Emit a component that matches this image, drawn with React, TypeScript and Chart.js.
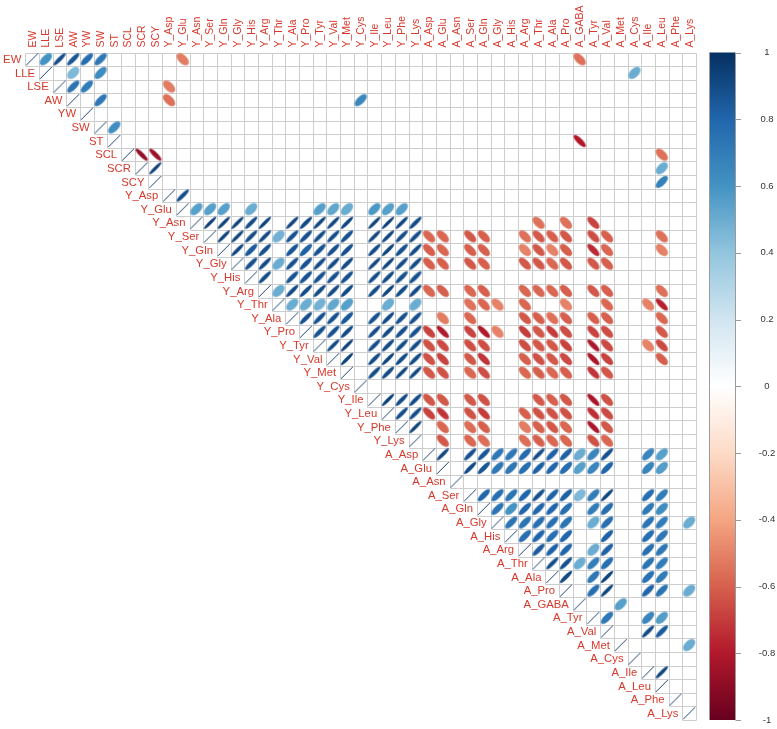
import React, { useEffect, useRef } from "react";
import { Chart, registerables } from "chart.js";

Chart.register(...registerables);

const variables = [
  "EW", "LLE", "LSE", "AW", "YW", "SW", "ST", "SCL", "SCR", "SCY",
  "Y_Asp", "Y_Glu", "Y_Asn", "Y_Ser", "Y_Gln", "Y_Gly", "Y_His", "Y_Arg", "Y_Thr", "Y_Ala",
  "Y_Pro", "Y_Tyr", "Y_Val", "Y_Met", "Y_Cys", "Y_Ile", "Y_Leu", "Y_Phe", "Y_Lys",
  "A_Asp", "A_Glu", "A_Asn", "A_Ser", "A_Gln", "A_Gly", "A_His", "A_Arg", "A_Thr", "A_Ala",
  "A_Pro", "A_GABA", "A_Tyr", "A_Val", "A_Met", "A_Cys", "A_Ile", "A_Leu", "A_Phe", "A_Lys",
];

const colorTicks = [1, 0.8, 0.6, 0.4, 0.2, 0, -0.2, -0.4, -0.6, -0.8, -1];

// Trait rows (EW ... SCY)
const traitPairs: [string, string, number][] = [
  ["EW", "LLE", 0.6], ["EW", "LSE", 0.9], ["EW", "AW", 0.86], ["EW", "YW", 0.76], ["EW", "SW", 0.72],
  ["EW", "Y_Glu", -0.52], ["EW", "A_GABA", -0.55],
  ["LLE", "AW", 0.45], ["LLE", "SW", 0.63], ["LLE", "A_Cys", 0.5],
  ["LSE", "AW", 0.74], ["LSE", "YW", 0.7], ["LSE", "Y_Asp", -0.52],
  ["AW", "SW", 0.72], ["AW", "Y_Asp", -0.55], ["AW", "Y_Cys", 0.65],
  ["SW", "ST", 0.62],
  ["ST", "A_GABA", -0.8],
  ["SCL", "SCR", -0.88], ["SCL", "SCY", -0.86], ["SCL", "A_Leu", -0.55],
  ["SCR", "SCY", 0.94], ["SCR", "A_Leu", 0.5],
  ["SCY", "A_Leu", 0.68],
];

// Y_ amino acids among themselves
const yAminoPairs: [string, string, number][] = [
  ["Y_Asp", "Y_Glu", 0.9],
  ["Y_Glu", "Y_Asn", 0.55], ["Y_Glu", "Y_Ser", 0.55], ["Y_Glu", "Y_Gln", 0.55], ["Y_Glu", "Y_His", 0.5],
  ["Y_Glu", "Y_Tyr", 0.55], ["Y_Glu", "Y_Val", 0.52], ["Y_Glu", "Y_Met", 0.5], ["Y_Glu", "Y_Ile", 0.58],
  ["Y_Glu", "Y_Leu", 0.55], ["Y_Glu", "Y_Phe", 0.55],
  ["Y_Asn", "Y_Ser", 0.94], ["Y_Asn", "Y_Gln", 0.93], ["Y_Asn", "Y_Gly", 0.93], ["Y_Asn", "Y_His", 0.9],
  ["Y_Asn", "Y_Arg", 0.93], ["Y_Asn", "Y_Ala", 0.92], ["Y_Asn", "Y_Pro", 0.9], ["Y_Asn", "Y_Tyr", 0.92],
  ["Y_Asn", "Y_Val", 0.92], ["Y_Asn", "Y_Met", 0.92], ["Y_Asn", "Y_Ile", 0.93], ["Y_Asn", "Y_Leu", 0.94],
  ["Y_Asn", "Y_Phe", 0.92], ["Y_Asn", "Y_Lys", 0.9],
  ["Y_Ser", "Y_Gln", 0.93], ["Y_Ser", "Y_Gly", 0.93], ["Y_Ser", "Y_His", 0.9], ["Y_Ser", "Y_Arg", 0.91],
  ["Y_Ser", "Y_Thr", 0.48], ["Y_Ser", "Y_Ala", 0.88], ["Y_Ser", "Y_Pro", 0.88], ["Y_Ser", "Y_Tyr", 0.9],
  ["Y_Ser", "Y_Val", 0.9], ["Y_Ser", "Y_Met", 0.88], ["Y_Ser", "Y_Ile", 0.92], ["Y_Ser", "Y_Leu", 0.92],
  ["Y_Ser", "Y_Phe", 0.9], ["Y_Ser", "Y_Lys", 0.9],
  ["Y_Gln", "Y_Gly", 0.92], ["Y_Gln", "Y_His", 0.84], ["Y_Gln", "Y_Arg", 0.88], ["Y_Gln", "Y_Ala", 0.86],
  ["Y_Gln", "Y_Pro", 0.82], ["Y_Gln", "Y_Tyr", 0.87], ["Y_Gln", "Y_Val", 0.88], ["Y_Gln", "Y_Met", 0.88],
  ["Y_Gln", "Y_Ile", 0.9], ["Y_Gln", "Y_Leu", 0.92], ["Y_Gln", "Y_Phe", 0.88], ["Y_Gln", "Y_Lys", 0.9],
  ["Y_Gly", "Y_His", 0.88], ["Y_Gly", "Y_Arg", 0.9], ["Y_Gly", "Y_Thr", 0.5], ["Y_Gly", "Y_Ala", 0.88],
  ["Y_Gly", "Y_Pro", 0.87], ["Y_Gly", "Y_Tyr", 0.9], ["Y_Gly", "Y_Val", 0.9], ["Y_Gly", "Y_Met", 0.9],
  ["Y_Gly", "Y_Ile", 0.92], ["Y_Gly", "Y_Leu", 0.92], ["Y_Gly", "Y_Phe", 0.9], ["Y_Gly", "Y_Lys", 0.9],
  ["Y_His", "Y_Arg", 0.9], ["Y_His", "Y_Ala", 0.87], ["Y_His", "Y_Pro", 0.87], ["Y_His", "Y_Tyr", 0.88],
  ["Y_His", "Y_Val", 0.88], ["Y_His", "Y_Met", 0.88], ["Y_His", "Y_Ile", 0.9], ["Y_His", "Y_Leu", 0.9],
  ["Y_His", "Y_Phe", 0.88], ["Y_His", "Y_Lys", 0.88],
  ["Y_Arg", "Y_Thr", 0.5], ["Y_Arg", "Y_Ala", 0.9], ["Y_Arg", "Y_Pro", 0.9], ["Y_Arg", "Y_Tyr", 0.9],
  ["Y_Arg", "Y_Val", 0.9], ["Y_Arg", "Y_Met", 0.9], ["Y_Arg", "Y_Ile", 0.9], ["Y_Arg", "Y_Leu", 0.92],
  ["Y_Arg", "Y_Phe", 0.9], ["Y_Arg", "Y_Lys", 0.9],
  ["Y_Thr", "Y_Ala", 0.5], ["Y_Thr", "Y_Pro", 0.5], ["Y_Thr", "Y_Tyr", 0.48], ["Y_Thr", "Y_Val", 0.52],
  ["Y_Thr", "Y_Met", 0.55], ["Y_Thr", "Y_Leu", 0.5], ["Y_Thr", "Y_Lys", 0.5],
  ["Y_Ala", "Y_Pro", 0.88], ["Y_Ala", "Y_Tyr", 0.88], ["Y_Ala", "Y_Val", 0.88], ["Y_Ala", "Y_Met", 0.85],
  ["Y_Ala", "Y_Ile", 0.88], ["Y_Ala", "Y_Leu", 0.9], ["Y_Ala", "Y_Phe", 0.88], ["Y_Ala", "Y_Lys", 0.88],
  ["Y_Pro", "Y_Tyr", 0.88], ["Y_Pro", "Y_Val", 0.88], ["Y_Pro", "Y_Met", 0.9], ["Y_Pro", "Y_Ile", 0.9],
  ["Y_Pro", "Y_Leu", 0.9], ["Y_Pro", "Y_Phe", 0.88], ["Y_Pro", "Y_Lys", 0.88],
  ["Y_Tyr", "Y_Val", 0.92], ["Y_Tyr", "Y_Met", 0.93], ["Y_Tyr", "Y_Ile", 0.9], ["Y_Tyr", "Y_Leu", 0.9],
  ["Y_Tyr", "Y_Phe", 0.9], ["Y_Tyr", "Y_Lys", 0.9],
  ["Y_Val", "Y_Met", 0.93], ["Y_Val", "Y_Ile", 0.9], ["Y_Val", "Y_Leu", 0.92], ["Y_Val", "Y_Phe", 0.9],
  ["Y_Val", "Y_Lys", 0.9],
  ["Y_Met", "Y_Ile", 0.9], ["Y_Met", "Y_Leu", 0.9], ["Y_Met", "Y_Phe", 0.92], ["Y_Met", "Y_Lys", 0.92],
  ["Y_Ile", "Y_Leu", 0.93], ["Y_Ile", "Y_Phe", 0.9], ["Y_Ile", "Y_Lys", 0.9],
  ["Y_Leu", "Y_Phe", 0.9], ["Y_Leu", "Y_Lys", 0.9],
  ["Y_Phe", "Y_Lys", 0.93],
];

// Y_ amino acids versus A_ amino acids
const yVsAPairs: [string, string, number][] = [
  ["Y_Asn", "A_Thr", -0.55], ["Y_Asn", "A_Pro", -0.55], ["Y_Asn", "A_Tyr", -0.68],
  ["Y_Ser", "A_Asp", -0.58], ["Y_Ser", "A_Glu", -0.58], ["Y_Ser", "A_Ser", -0.62], ["Y_Ser", "A_Gln", -0.6],
  ["Y_Ser", "A_Arg", -0.55], ["Y_Ser", "A_Thr", -0.62], ["Y_Ser", "A_Ala", -0.6], ["Y_Ser", "A_Pro", -0.62],
  ["Y_Ser", "A_Tyr", -0.65], ["Y_Ser", "A_Val", -0.6], ["Y_Ser", "A_Leu", -0.55],
  ["Y_Gln", "A_Asp", -0.6], ["Y_Gln", "A_Glu", -0.58], ["Y_Gln", "A_Ser", -0.6], ["Y_Gln", "A_Gln", -0.6],
  ["Y_Gln", "A_Arg", -0.5], ["Y_Gln", "A_Thr", -0.62], ["Y_Gln", "A_Ala", -0.5], ["Y_Gln", "A_Pro", -0.6],
  ["Y_Gln", "A_Tyr", -0.75], ["Y_Gln", "A_Val", -0.58], ["Y_Gln", "A_Leu", -0.5],
  ["Y_Gly", "A_Asp", -0.6], ["Y_Gly", "A_Glu", -0.6], ["Y_Gly", "A_Ser", -0.62], ["Y_Gly", "A_Gln", -0.6],
  ["Y_Gly", "A_Arg", -0.62], ["Y_Gly", "A_Thr", -0.62], ["Y_Gly", "A_Ala", -0.58], ["Y_Gly", "A_Pro", -0.62],
  ["Y_Gly", "A_Tyr", -0.62], ["Y_Gly", "A_Val", -0.6],
  ["Y_Arg", "A_Asp", -0.58], ["Y_Arg", "A_Glu", -0.6], ["Y_Arg", "A_Ser", -0.58], ["Y_Arg", "A_Gln", -0.6],
  ["Y_Arg", "A_Arg", -0.58], ["Y_Arg", "A_Thr", -0.58], ["Y_Arg", "A_Ala", -0.58], ["Y_Arg", "A_Pro", -0.6],
  ["Y_Arg", "A_Tyr", -0.62], ["Y_Arg", "A_Val", -0.6], ["Y_Arg", "A_Leu", -0.55],
  ["Y_Thr", "A_Ser", -0.55], ["Y_Thr", "A_Gln", -0.58], ["Y_Thr", "A_Gly", -0.5], ["Y_Thr", "A_Arg", -0.58],
  ["Y_Thr", "A_Pro", -0.5], ["Y_Thr", "A_Val", -0.58], ["Y_Thr", "A_Ile", -0.5], ["Y_Thr", "A_Leu", -0.78],
  ["Y_Ala", "A_Glu", -0.52], ["Y_Ala", "A_Ser", -0.58], ["Y_Ala", "A_Arg", -0.62], ["Y_Ala", "A_Thr", -0.6],
  ["Y_Ala", "A_Ala", -0.55], ["Y_Ala", "A_Pro", -0.6], ["Y_Ala", "A_Tyr", -0.6], ["Y_Ala", "A_Val", -0.6],
  ["Y_Ala", "A_Leu", -0.58],
  ["Y_Pro", "A_Asp", -0.68], ["Y_Pro", "A_Glu", -0.8], ["Y_Pro", "A_Ser", -0.68], ["Y_Pro", "A_Gln", -0.8],
  ["Y_Pro", "A_Gly", -0.5], ["Y_Pro", "A_Arg", -0.7], ["Y_Pro", "A_Thr", -0.62], ["Y_Pro", "A_Ala", -0.7],
  ["Y_Pro", "A_Pro", -0.65], ["Y_Pro", "A_Tyr", -0.68], ["Y_Pro", "A_Val", -0.65], ["Y_Pro", "A_Leu", -0.62],
  ["Y_Tyr", "A_Asp", -0.64], ["Y_Tyr", "A_Glu", -0.66], ["Y_Tyr", "A_Ser", -0.65], ["Y_Tyr", "A_Gln", -0.65],
  ["Y_Tyr", "A_Arg", -0.65], ["Y_Tyr", "A_Thr", -0.62], ["Y_Tyr", "A_Ala", -0.62], ["Y_Tyr", "A_Pro", -0.68],
  ["Y_Tyr", "A_Tyr", -0.82], ["Y_Tyr", "A_Val", -0.66], ["Y_Tyr", "A_Ile", -0.5], ["Y_Tyr", "A_Leu", -0.66],
  ["Y_Val", "A_Asp", -0.64], ["Y_Val", "A_Glu", -0.68], ["Y_Val", "A_Ser", -0.62], ["Y_Val", "A_Gln", -0.72],
  ["Y_Val", "A_Arg", -0.6], ["Y_Val", "A_Thr", -0.64], ["Y_Val", "A_Ala", -0.62], ["Y_Val", "A_Pro", -0.66],
  ["Y_Val", "A_Tyr", -0.82], ["Y_Val", "A_Val", -0.68], ["Y_Val", "A_Leu", -0.6],
  ["Y_Met", "A_Asp", -0.62], ["Y_Met", "A_Glu", -0.64], ["Y_Met", "A_Ser", -0.58], ["Y_Met", "A_Gln", -0.65],
  ["Y_Met", "A_Arg", -0.58], ["Y_Met", "A_Thr", -0.6], ["Y_Met", "A_Ala", -0.58], ["Y_Met", "A_Pro", -0.6],
  ["Y_Met", "A_Tyr", -0.72], ["Y_Met", "A_Val", -0.62],
  ["Y_Ile", "A_Asp", -0.62], ["Y_Ile", "A_Glu", -0.62], ["Y_Ile", "A_Ser", -0.62], ["Y_Ile", "A_Gln", -0.64],
  ["Y_Ile", "A_Thr", -0.62], ["Y_Ile", "A_Ala", -0.6], ["Y_Ile", "A_Pro", -0.62], ["Y_Ile", "A_Tyr", -0.82],
  ["Y_Ile", "A_Val", -0.64],
  ["Y_Leu", "A_Asp", -0.68], ["Y_Leu", "A_Glu", -0.72], ["Y_Leu", "A_Ser", -0.64], ["Y_Leu", "A_Gln", -0.7],
  ["Y_Leu", "A_Arg", -0.6], ["Y_Leu", "A_Thr", -0.64], ["Y_Leu", "A_Ala", -0.64], ["Y_Leu", "A_Pro", -0.64],
  ["Y_Leu", "A_Tyr", -0.74], ["Y_Leu", "A_Val", -0.66],
  ["Y_Phe", "A_Glu", -0.58], ["Y_Phe", "A_Ser", -0.56], ["Y_Phe", "A_Gln", -0.6], ["Y_Phe", "A_Arg", -0.52],
  ["Y_Phe", "A_Thr", -0.6], ["Y_Phe", "A_Ala", -0.62], ["Y_Phe", "A_Pro", -0.58], ["Y_Phe", "A_Tyr", -0.82],
  ["Y_Phe", "A_Val", -0.62],
  ["Y_Lys", "A_Glu", -0.62], ["Y_Lys", "A_Ser", -0.58], ["Y_Lys", "A_Gln", -0.56], ["Y_Lys", "A_Arg", -0.56],
  ["Y_Lys", "A_Thr", -0.6], ["Y_Lys", "A_Ala", -0.58], ["Y_Lys", "A_Pro", -0.58], ["Y_Lys", "A_Tyr", -0.64],
  ["Y_Lys", "A_Val", -0.58],
];

// A_ amino acids among themselves
const aAminoPairs: [string, string, number][] = [
  ["A_Asp", "A_Glu", 0.92], ["A_Asp", "A_Ser", 0.88], ["A_Asp", "A_Gln", 0.86], ["A_Asp", "A_Gly", 0.72],
  ["A_Asp", "A_His", 0.72], ["A_Asp", "A_Arg", 0.78], ["A_Asp", "A_Thr", 0.9], ["A_Asp", "A_Ala", 0.82],
  ["A_Asp", "A_Pro", 0.82], ["A_Asp", "A_GABA", 0.5], ["A_Asp", "A_Tyr", 0.66], ["A_Asp", "A_Val", 0.88],
  ["A_Asp", "A_Ile", 0.66], ["A_Asp", "A_Leu", 0.55],
  ["A_Glu", "A_Ser", 0.9], ["A_Glu", "A_Gln", 0.86], ["A_Glu", "A_Gly", 0.72], ["A_Glu", "A_His", 0.72],
  ["A_Glu", "A_Arg", 0.76], ["A_Glu", "A_Thr", 0.82], ["A_Glu", "A_Ala", 0.8], ["A_Glu", "A_Pro", 0.76],
  ["A_Glu", "A_GABA", 0.55], ["A_Glu", "A_Tyr", 0.66], ["A_Glu", "A_Val", 0.8], ["A_Glu", "A_Ile", 0.66],
  ["A_Glu", "A_Leu", 0.56],
  ["A_Ser", "A_Gln", 0.8], ["A_Ser", "A_Gly", 0.76], ["A_Ser", "A_His", 0.74], ["A_Ser", "A_Arg", 0.8],
  ["A_Ser", "A_Thr", 0.88], ["A_Ser", "A_Ala", 0.82], ["A_Ser", "A_Pro", 0.82], ["A_Ser", "A_GABA", 0.45],
  ["A_Ser", "A_Tyr", 0.7], ["A_Ser", "A_Val", 0.92], ["A_Ser", "A_Ile", 0.76], ["A_Ser", "A_Leu", 0.7],
  ["A_Gln", "A_Gly", 0.74], ["A_Gln", "A_His", 0.6], ["A_Gln", "A_Arg", 0.8], ["A_Gln", "A_Thr", 0.8],
  ["A_Gln", "A_Ala", 0.8], ["A_Gln", "A_Pro", 0.76], ["A_Gln", "A_Tyr", 0.7], ["A_Gln", "A_Val", 0.76],
  ["A_Gln", "A_Ile", 0.72], ["A_Gln", "A_Leu", 0.62],
  ["A_Gly", "A_His", 0.74], ["A_Gly", "A_Arg", 0.74], ["A_Gly", "A_Thr", 0.76], ["A_Gly", "A_Ala", 0.76],
  ["A_Gly", "A_Pro", 0.74], ["A_Gly", "A_Tyr", 0.5], ["A_Gly", "A_Val", 0.76], ["A_Gly", "A_Ile", 0.74],
  ["A_Gly", "A_Leu", 0.7], ["A_Gly", "A_Lys", 0.5],
  ["A_His", "A_Arg", 0.76], ["A_His", "A_Thr", 0.8], ["A_His", "A_Ala", 0.76], ["A_His", "A_Pro", 0.8],
  ["A_His", "A_Val", 0.82], ["A_His", "A_Ile", 0.76], ["A_His", "A_Leu", 0.72],
  ["A_Arg", "A_Thr", 0.84], ["A_Arg", "A_Ala", 0.82], ["A_Arg", "A_Pro", 0.8], ["A_Arg", "A_Tyr", 0.5],
  ["A_Arg", "A_Val", 0.82], ["A_Arg", "A_Ile", 0.76], ["A_Arg", "A_Leu", 0.72],
  ["A_Thr", "A_Ala", 0.9], ["A_Thr", "A_Pro", 0.88], ["A_Thr", "A_GABA", 0.5], ["A_Thr", "A_Tyr", 0.7],
  ["A_Thr", "A_Val", 0.76], ["A_Thr", "A_Ile", 0.74], ["A_Thr", "A_Leu", 0.7],
  ["A_Ala", "A_Pro", 0.9], ["A_Ala", "A_Tyr", 0.72], ["A_Ala", "A_Val", 0.92], ["A_Ala", "A_Ile", 0.74],
  ["A_Ala", "A_Leu", 0.7],
  ["A_Pro", "A_Tyr", 0.76], ["A_Pro", "A_Val", 0.92], ["A_Pro", "A_Ile", 0.8], ["A_Pro", "A_Leu", 0.74],
  ["A_Pro", "A_Lys", 0.5],
  ["A_GABA", "A_Met", 0.55],
  ["A_Tyr", "A_Val", 0.72], ["A_Tyr", "A_Ile", 0.66], ["A_Tyr", "A_Leu", 0.56],
  ["A_Val", "A_Ile", 0.9], ["A_Val", "A_Leu", 0.84],
  ["A_Met", "A_Lys", 0.5],
  ["A_Ile", "A_Leu", 0.92],
];

const RAMP = [
  "#67001F", "#B2182B", "#D6604D", "#F4A582", "#FDDBC7", "#FFFFFF",
  "#D1E5F0", "#92C5DE", "#4393C3", "#2166AC", "#053061",
];
const LABEL_COLOR = "#D7392C";
const GRID_COLOR = "#CDCDCD";
const FONT = "'Liberation Sans', Arial, sans-serif";

function hexToRgb(h: string) {
  const n = parseInt(h.slice(1), 16);
  return [(n >> 16) & 255, (n >> 8) & 255, n & 255];
}

function corrColor(r: number) {
  const t = ((r + 1) / 2) * (RAMP.length - 1);
  const i = Math.max(0, Math.min(Math.floor(t), RAMP.length - 2));
  const f = t - i;
  const a = hexToRgb(RAMP[i]);
  const b = hexToRgb(RAMP[i + 1]);
  const c = a.map((v, k) => Math.round(v + (b[k] - v) * f));
  return `rgb(${c[0]},${c[1]},${c[2]})`;
}

const styleCache = new Map<string, HTMLCanvasElement>();
function ellipseCanvas(r: number, cw: number, ch: number) {
  const key = `${r}|${cw.toFixed(2)}|${ch.toFixed(2)}`;
  const hit = styleCache.get(key);
  if (hit) return hit;
  const size = Math.ceil(Math.max(cw, ch)) + 4;
  const c = document.createElement("canvas");
  c.width = size;
  c.height = size;
  const g = c.getContext("2d")!;
  const alpha = Math.acos(Math.max(-1, Math.min(1, r))) / 2;
  const col = corrColor(r);
  g.beginPath();
  const n = 99;
  for (let k = 0; k <= n; k++) {
    const t = (k / n) * Math.PI * 2;
    const px = size / 2 + 0.425 * Math.cos(t + alpha) * cw;
    const py = size / 2 - 0.425 * Math.cos(t - alpha) * ch;
    if (k === 0) g.moveTo(px, py);
    else g.lineTo(px, py);
  }
  g.closePath();
  g.fillStyle = col;
  g.fill();
  g.strokeStyle = col;
  g.lineWidth = r >= 0.999 ? 1 : 0.6;
  g.stroke();
  styleCache.set(key, c);
  return c;
}

const corrPlugin = {
  id: "corrDecor",
  beforeDatasetsDraw(chart: any) {
    const { ctx, chartArea } = chart;
    const n = variables.length;
    const w = (chartArea.right - chartArea.left) / n;
    const h = (chartArea.bottom - chartArea.top) / n;
    const xs = chart.scales.x;
    const ys = chart.scales.y;
    const bx = (m: number) => Math.round(xs.getPixelForValue(m) - w / 2) + 0.5;
    const by = (m: number) => Math.round(ys.getPixelForValue(m) - h / 2) + 0.5;
    const edgeX = (m: number) => (m < n ? bx(m) : Math.round(xs.getPixelForValue(n - 1) + w / 2) + 0.5);
    const edgeY = (m: number) => (m < n ? by(m) : Math.round(ys.getPixelForValue(n - 1) + h / 2) + 0.5);
    ctx.save();
    ctx.strokeStyle = GRID_COLOR;
    ctx.lineWidth = 1;
    ctx.beginPath();
    for (let k = 0; k <= n; k++) {
      const y = edgeY(k);
      ctx.moveTo(edgeX(Math.max(k - 1, 0)), y);
      ctx.lineTo(edgeX(n), y);
    }
    for (let m = 0; m <= n; m++) {
      const x = edgeX(m);
      ctx.moveTo(x, edgeY(0));
      ctx.lineTo(x, edgeY(Math.min(m + 1, n)));
    }
    ctx.stroke();
    ctx.restore();
  },
  afterDatasetsDraw(chart: any) {
    const { ctx, chartArea } = chart;
    const n = variables.length;
    const w = (chartArea.right - chartArea.left) / n;
    const xs = chart.scales.x;
    const ys = chart.scales.y;
    ctx.save();
    ctx.fillStyle = LABEL_COLOR;
    // column labels, rotated, above the grid
    ctx.font = `10.5px ${FONT}`;
    ctx.textAlign = "left";
    ctx.textBaseline = "middle";
    variables.forEach((v, i) => {
      ctx.save();
      ctx.translate(xs.getPixelForValue(i) + 0.5, chartArea.top - 5);
      ctx.rotate(-Math.PI / 2);
      ctx.fillText(v, 0, 0);
      ctx.restore();
    });
    // row labels along the diagonal
    ctx.font = `11.3px ${FONT}`;
    ctx.textAlign = "right";
    ctx.textBaseline = "middle";
    variables.forEach((v, i) => {
      const x = xs.getPixelForValue(i) - w / 2 - 4;
      ctx.fillText(v, x, ys.getPixelForValue(i) + 0.5);
    });
    // colour legend
    const cb = chart.scales.cb;
    const top = cb.getPixelForValue(1);
    const bottom = cb.getPixelForValue(-1);
    const x0 = chartArea.right + 13.3;
    const x1 = x0 + 25.7;
    const grad = ctx.createLinearGradient(0, bottom, 0, top);
    RAMP.forEach((c, i) => grad.addColorStop(i / (RAMP.length - 1), c));
    ctx.fillStyle = grad;
    ctx.fillRect(x0, top, x1 - x0, bottom - top);
    ctx.strokeStyle = "#9a9a9a";
    ctx.lineWidth = 1;
    ctx.beginPath();
    ctx.moveTo(Math.round(x0) + 0.5, top);
    ctx.lineTo(Math.round(x0) + 0.5, bottom);
    ctx.moveTo(Math.round(x1) + 0.5, top);
    ctx.lineTo(Math.round(x1) + 0.5, bottom);
    colorTicks.forEach((t) => {
      const y = Math.round(cb.getPixelForValue(t)) + 0.5;
      ctx.moveTo(Math.round(x1) + 0.5, y);
      ctx.lineTo(Math.round(x1) + 6, y);
    });
    ctx.stroke();
    ctx.fillStyle = "#333333";
    ctx.font = `9.5px ${FONT}`;
    ctx.textAlign = "center";
    ctx.textBaseline = "middle";
    colorTicks.forEach((t) => {
      ctx.fillText(String(t), x1 + 32, cb.getPixelForValue(t));
    });
    ctx.restore();
  },
};

export default function App() {
  const ref = useRef<HTMLCanvasElement | null>(null);
  useEffect(() => {
    document.body.style.margin = "0";
    const canvas = ref.current;
    if (!canvas) return;
    const pairs = [...traitPairs, ...yAminoPairs, ...yVsAPairs, ...aAminoPairs];
    const points = [
      ...variables.map((v) => ({ x: v, y: v, r: 1 })),
      ...pairs.map(([a, b, r]) => ({ x: b, y: a, r })),
    ];
    const chart = new Chart(canvas, {
      type: "scatter",
      data: {
        datasets: [
          {
            data: points as any,
            pointRadius: 6,
            pointHoverRadius: 6,
            pointStyle: (c: any) => {
              const area = c.chart.chartArea;
              const n = variables.length;
              const cw = area ? (area.right - area.left) / n : 13.7;
              const ch = area ? (area.bottom - area.top) / n : 13.6;
              return ellipseCanvas(c.raw ? c.raw.r : 0, cw, ch);
            },
          } as any,
        ],
      },
      options: {
        animation: false,
        responsive: false,
        devicePixelRatio: 1,
        events: [],
        layout: { padding: { left: 25.3, right: 81, top: 52.5, bottom: 9 } },
        plugins: { legend: { display: false }, tooltip: { enabled: false } },
        scales: {
          x: {
            type: "category",
            labels: variables,
            offset: true,
            display: false,
          } as any,
          y: {
            type: "category",
            labels: variables,
            offset: true,
            display: false,
          } as any,
          cb: {
            type: "linear",
            axis: "y",
            min: -1,
            max: 1,
            display: false,
          } as any,
        },
      },
      plugins: [corrPlugin],
    });
    return () => chart.destroy();
  }, []);
  return (
    <div style={{ width: 777, height: 729 }}>
      <canvas ref={ref} width={777} height={729} style={{ display: "block" }} />
    </div>
  );
}
